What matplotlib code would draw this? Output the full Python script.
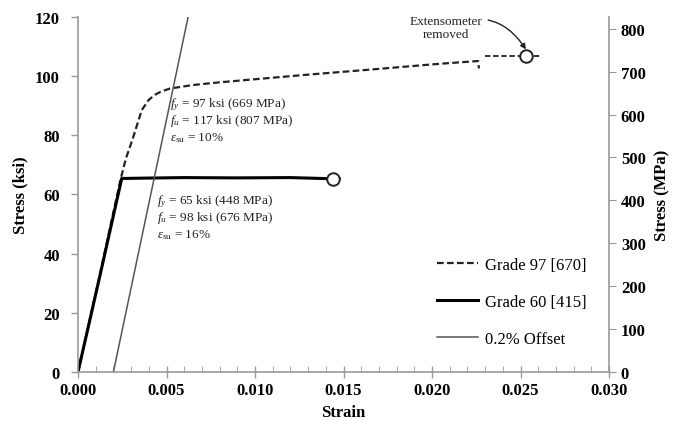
import matplotlib
matplotlib.use("Agg")
from matplotlib import pyplot as plt
from matplotlib.ticker import MultipleLocator

plt.rcParams['font.family'] = ['Liberation Serif', 'DejaVu Serif']
plt.rcParams['mathtext.fontset'] = 'custom'
plt.rcParams['mathtext.rm'] = 'Liberation Serif'
plt.rcParams['mathtext.it'] = 'Liberation Serif:italic'

KSI_TO_MPA = 6.895

# Grade 97 [670] - dashed curve (strain, ksi)
g97_strain = [0.0, 0.0012, 0.0024, 0.0027, 0.0031, 0.0036, 0.0040, 0.00435,
              0.0047, 0.0052, 0.0065, 0.0080, 0.0103, 0.0130, 0.0159, 0.0185,
              0.0205, 0.0226, 0.02265]
g97_stress = [0.0, 32.0, 65.0, 72.0, 79.0, 88.5, 92.0, 93.7,
              94.8, 95.8, 97.0, 97.9, 99.1, 100.5, 101.9, 103.2,
              104.2, 105.1, 102.6]
# after extensometer removed
g97_tail_strain = [0.0230, 0.0253, 0.0261]
g97_tail_stress = [106.8, 106.8, 106.8]
g97_end = (0.0253, 106.8)

# Grade 60 [415] - solid curve
g60_strain = [0.0, 0.0012, 0.00247, 0.0035, 0.0060, 0.0090, 0.0120, 0.0144, 0.01475]
g60_stress = [0.0, 31.5, 65.4, 65.5, 65.7, 65.6, 65.7, 65.3, 65.3]
g60_end = (0.0144, 65.3)

# 0.2% offset line
offset_strain = [0.002, 0.00622]
offset_stress = [0.0, 120.0]

# property notes
notes97 = ['$\\mathit{f_y}$ = 97 ksi (669 MPa)',
           '$\\mathit{f_u}$ = 117 ksi (807 MPa)',
           '$\\varepsilon_{\\mathrm{su}}$ = 10%']
notes97_y = [90.6, 85.0, 79.4]
notes60 = ['$\\mathit{f_y}$ = 65 ksi (448 MPa)',
           '$\\mathit{f_u}$ = 98 ksi (676 MPa)',
           '$\\varepsilon_{\\mathrm{su}}$ = 16%']
notes60_y = [58.0, 52.4, 46.6]

fig = plt.figure(figsize=(6.73, 4.27), dpi=100)
ax = fig.add_axes([0.1159, 0.1265, 0.7891, 0.8315])

ax.plot(g97_strain, g97_stress, color='#222222', lw=1.6, ls=(0, (3, 1.5)),
        label='Grade 97 [670]')
ax.plot(g97_tail_strain, g97_tail_stress, color='#222222', lw=1.3, ls=(0, (3, 1.5)))
ax.plot(*g97_end, marker='o', ms=9, mfc='white', mec='#222222', mew=1.4)

ax.plot(g60_strain, g60_stress, color='black', lw=2.2, label='Grade 60 [415]')
ax.plot(*g60_end, marker='o', ms=9, mfc='white', mec='#222222', mew=1.4)

ax.plot(offset_strain, offset_stress, color='#555555', lw=1.1, label='0.2% Offset')

ax.set_xlim(0, 0.030)
ax.set_ylim(0, 120)
ax.xaxis.set_major_locator(MultipleLocator(0.005))
ax.xaxis.set_minor_locator(MultipleLocator(0.001))
ax.yaxis.set_major_locator(MultipleLocator(20))
ax.xaxis.set_major_formatter(matplotlib.ticker.FormatStrFormatter('%.3f'))

for s in ['top', 'right']:
    ax.spines[s].set_visible(False)
for s in ['left', 'bottom']:
    ax.spines[s].set_color('#999999')
    ax.spines[s].set_linewidth(1.2)
ax.tick_params(axis='both', which='major', labelsize=12, color='#999999', width=1.0)
ax.tick_params(axis='x', which='major', direction='inout', length=8)
ax.tick_params(axis='x', which='minor', direction='in', length=4, color='#999999')
ax.tick_params(axis='y', which='major', direction='out', length=5, pad=8)
for lab in ax.get_xticklabels() + ax.get_yticklabels():
    lab.set_fontweight('bold')

ax.set_xlabel('Strain', fontsize=12, fontweight='bold', labelpad=4)
ax.set_ylabel('Stress (ksi)', fontsize=12, fontweight='bold', labelpad=5)

ax2 = ax.twinx()
ax2.set_ylim(0, 120 * KSI_TO_MPA)
ax2.yaxis.set_major_locator(MultipleLocator(100))
for s in ['top', 'left', 'bottom']:
    ax2.spines[s].set_visible(False)
ax2.spines['right'].set_color('#999999')
ax2.spines['right'].set_linewidth(1.2)
ax2.tick_params(axis='y', labelsize=12, color='#999999', direction='out', length=5)
for lab in ax2.get_yticklabels():
    lab.set_fontweight('bold')
ax2.set_ylabel('Stress (MPa)', fontsize=12, fontweight='bold', labelpad=6)

for txt, yv in zip(notes97, notes97_y):
    ax.text(0.0052, yv, txt, fontsize=9.5, va='center', ha='left', color='#222222')
for txt, yv in zip(notes60, notes60_y):
    ax.text(0.00446, yv, txt, fontsize=9.5, va='center', ha='left', color='#222222')

ax.annotate('Extensometer\nremoved', xy=(0.0253, 109.0), xytext=(0.0208, 116.3),
            fontsize=9.5, ha='center', va='center', color='#222222', linespacing=1.1,
            arrowprops=dict(arrowstyle='-|>', color='#222222', lw=1.0,
                            connectionstyle='arc3,rad=-0.45', mutation_scale=8,
                            shrinkA=2, shrinkB=0))

leg = ax.legend(loc='lower right', bbox_to_anchor=(0.986, 0.029), frameon=False,
                fontsize=12, handlelength=2.5, handletextpad=0.4,
                labelspacing=1.25)

fig.savefig('out.png', dpi=100)
